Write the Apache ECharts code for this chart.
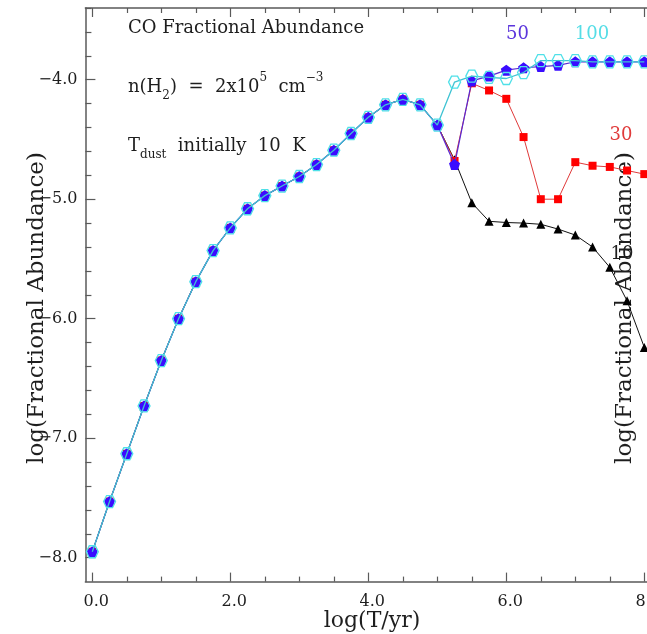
<!DOCTYPE html>
<html><head><meta charset="utf-8">
<script src="https://cdn.jsdelivr.net/npm/echarts@6/dist/echarts.min.js"></script>
<style>html,body{margin:0;padding:0;background:#fff}#c{width:647px;height:634px}</style>
</head><body><div id="c"></div>
<script>
// log(T/yr) sample points
const logT = [0,0.25,0.5,0.75,1.0,1.25,1.5,1.75,2.0,2.25,2.5,2.75,3.0,3.25,3.5,3.75,4.0,4.25,4.5,4.75,5.0,5.25,5.5,5.75,6.0,6.25,6.5,6.75,7.0,7.25,7.5,7.75,8.0];
// log(CO fractional abundance) for Tdust final = 10, 30, 50, 100 K
const co10  = [-7.95,-7.53,-7.13,-6.73,-6.35,-6.00,-5.69,-5.43,-5.24,-5.08,-4.97,-4.89,-4.81,-4.71,-4.59,-4.45,-4.315,-4.21,-4.165,-4.21,-4.38,-4.67,-5.03,-5.185,-5.195,-5.20,-5.21,-5.25,-5.30,-5.40,-5.57,-5.85,-6.24];
const co30  = [-7.95,-7.53,-7.13,-6.73,-6.35,-6.00,-5.69,-5.43,-5.24,-5.08,-4.97,-4.89,-4.81,-4.71,-4.59,-4.45,-4.315,-4.21,-4.165,-4.21,-4.38,-4.68,-4.03,-4.09,-4.16,-4.48,-5.00,-5.00,-4.69,-4.72,-4.73,-4.76,-4.79];
const co50  = [-7.95,-7.53,-7.13,-6.73,-6.35,-6.00,-5.69,-5.43,-5.24,-5.08,-4.97,-4.89,-4.81,-4.71,-4.59,-4.45,-4.315,-4.21,-4.165,-4.21,-4.38,-4.71,-4.01,-3.97,-3.92,-3.90,-3.89,-3.88,-3.85,-3.85,-3.85,-3.85,-3.85];
const co100 = [-7.95,-7.53,-7.13,-6.73,-6.35,-6.00,-5.69,-5.43,-5.24,-5.08,-4.97,-4.89,-4.81,-4.71,-4.59,-4.45,-4.315,-4.21,-4.165,-4.21,-4.38,-4.02,-3.97,-3.98,-3.99,-3.94,-3.84,-3.84,-3.84,-3.85,-3.85,-3.85,-3.85];
const seriesNames = ['10','30','50','100'];
// tick values
const xMajor = [0,2,4,6,8];
const xMinor = [0.5,1,1.5,2.5,3,3.5,4.5,5,5.5,6.5,7,7.5];
const yMajor = [-8,-7,-6,-5,-4];
const yMinor = [-7.8,-7.6,-7.4,-7.2,-6.8,-6.6,-6.4,-6.2,-5.8,-5.6,-5.4,-5.2,-4.8,-4.6,-4.4,-4.2,-3.8,-3.6,-3.4];

const FONT = 'DejaVu Serif';
const AX = '#5a5a5a';
const TXT = '#1e1e1e';
function pairs(ys){ return logT.map((x,i)=>[x, ys[i]]); }
const pent = 'path://M0,-1 L0.951,-0.309 L0.588,0.809 L-0.588,0.809 L-0.951,-0.309 Z';
const hex = 'path://M1,0 L0.5,0.866 L-0.5,0.866 L-1,0 L-0.5,-0.866 L0.5,-0.866 Z';

function xAx(pos, ticks, len, label, line){
  return {type:'value', position:pos, min:-0.1, max:8.1, gridIndex:0,
    axisLine:{show:line, onZero:false, lineStyle:{color:AX, width:1.5}},
    axisTick:{show:true, inside:true, length:len, customValues:ticks, lineStyle:{color:AX, width:1.2}},
    axisLabel:{show:label, customValues:ticks, margin:12, padding:[0,0,0,8], fontFamily:FONT, fontSize:16, color:TXT,
      hideOverlap:false, formatter:v=>v.toFixed(1)},
    splitLine:{show:false}};
}
function yAx(ticks, len, label, line){
  return {type:'value', position:'left', min:-8.2, max:-3.4, gridIndex:0,
    axisLine:{show:line, onZero:false, lineStyle:{color:AX, width:1.5}},
    axisTick:{show:true, inside:true, length:len, customValues:ticks, lineStyle:{color:AX, width:1.2}},
    axisLabel:{show:label, customValues:ticks, margin:8, fontFamily:FONT, fontSize:16, color:TXT,
      formatter:v=>(v<0?'\u2212':'')+Math.abs(v).toFixed(1)},
    splitLine:{show:false}};
}

const chart = echarts.init(document.getElementById('c'), null, {renderer:'canvas'});
chart.setOption({
  animation:false,
  backgroundColor:'#fff',
  grid:{left:85.4, top:8, width:565.8, height:573.6, containLabel:false, outerBoundsMode:'none'},
  xAxis:[xAx('bottom', xMajor, 9, true, true), xAx('bottom', xMinor, 5, false, false),
         xAx('top', xMajor, 9, false, true), xAx('top', xMinor, 5, false, false)],
  yAxis:[yAx(yMajor, 10, true, true), yAx(yMinor, 6, false, false)],
  series:[
    {name:seriesNames[0], type:'line', data:pairs(co10), symbol:'triangle', symbolSize:9, z:2,
     lineStyle:{color:'#111', width:1}, itemStyle:{color:'#000'}},
    {name:seriesNames[1], type:'line', data:pairs(co30), symbol:'rect', symbolSize:8, z:3,
     lineStyle:{color:'#e03a3a', width:1}, itemStyle:{color:'#ff0000'}},
    {name:seriesNames[2], type:'line', data:pairs(co50), symbol:pent, symbolSize:11, z:4,
     lineStyle:{color:'#5a2bd2', width:1.2}, itemStyle:{color:'#3a0cff'}},
    {name:seriesNames[3], type:'line', data:pairs(co100), symbol:hex, symbolSize:12, z:5,
     lineStyle:{color:'#3fc3d3', width:1.3}, itemStyle:{color:'rgba(255,255,255,0)', borderColor:'#4fe0e8', borderWidth:1.3}}
  ],
  graphic:[
    {type:'text', x:128, y:28, style:{text:'CO Fractional Abundance', fontFamily:FONT, fontSize:18, fill:TXT, verticalAlign:'middle'}},
    {type:'text', x:128, y:87, style:{text:'n(H{sub|2})  =  2x10{sup|5}  cm{sup|\u22123}', fontFamily:FONT, fontSize:18, fill:TXT, verticalAlign:'middle',
      rich:{sub:{fontFamily:FONT, fontSize:12, fill:TXT, verticalAlign:'bottom', lineHeight:30}, sup:{fontFamily:FONT, fontSize:12, fill:TXT, verticalAlign:'top', lineHeight:30}}}},
    {type:'text', x:128, y:146, style:{text:'T{sub|dust}  initially  10  K', fontFamily:FONT, fontSize:18, fill:TXT, verticalAlign:'middle',
      rich:{sub:{fontFamily:FONT, fontSize:12, fill:TXT, verticalAlign:'bottom', lineHeight:30}}}},
    {type:'text', x:517.5, y:34, style:{text:'50', fontFamily:FONT, fontSize:18, fill:'#5b35dc', align:'center', verticalAlign:'middle'}},
    {type:'text', x:592, y:34, style:{text:'100', fontFamily:FONT, fontSize:18, fill:'#55dde6', align:'center', verticalAlign:'middle'}},
    {type:'text', x:621, y:135, style:{text:'30', fontFamily:FONT, fontSize:18, fill:'#e03a3a', align:'center', verticalAlign:'middle'}},
    {type:'text', x:622, y:254, style:{text:'10', fontFamily:FONT, fontSize:18, fill:TXT, align:'center', verticalAlign:'middle'}},
    {type:'text', x:372, y:621, style:{text:'log(T/yr)', fontFamily:FONT, fontSize:22, fill:TXT, align:'center', verticalAlign:'middle'}},
    {type:'text', x:37, y:308, rotation:Math.PI/2, style:{text:'log(Fractional Abundance)', fontFamily:FONT, fontSize:23, fill:TXT, align:'center', verticalAlign:'middle'}},
    {type:'text', x:625, y:308, rotation:Math.PI/2, style:{text:'log(Fractional Abundance)', fontFamily:FONT, fontSize:23, fill:TXT, align:'center', verticalAlign:'middle'}}
  ]
});
</script></body></html>
